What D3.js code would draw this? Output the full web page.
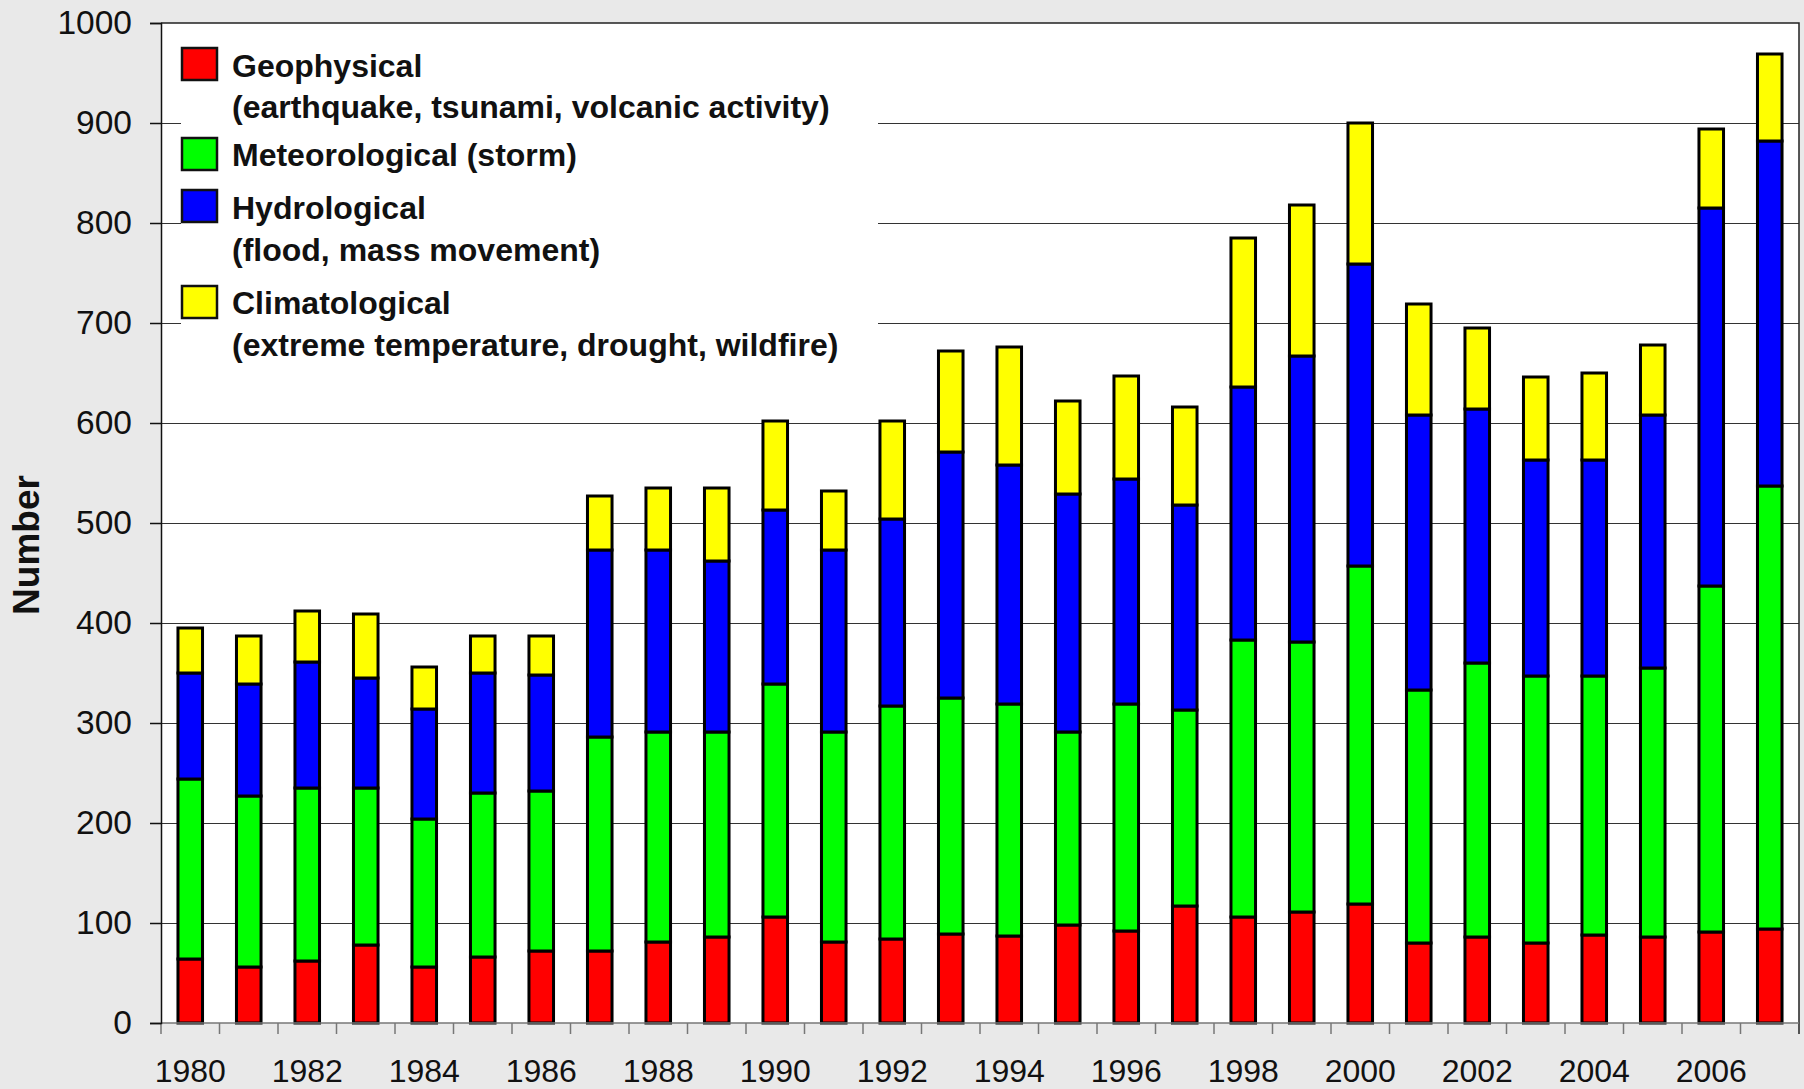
<!DOCTYPE html>
<html>
<head>
<meta charset="utf-8">
<script src="https://cdn.jsdelivr.net/npm/d3@7"></script>
<style>
  body { margin: 0; background: #e9e9e9; }
  svg { display: block; font-family: "Liberation Sans", Arial, sans-serif; }
</style>
</head>
<body>
<div id="chart"></div>
<script>
const years = d3.range(1980, 2008);

const geophysical    = [64, 56, 62, 78, 56, 66, 72, 72, 81, 86, 106, 81, 84, 89, 87, 98, 92, 117, 106, 111, 119, 80, 86, 80, 88, 86, 91, 94];
const meteorological = [180, 171, 173, 157, 148, 164, 160, 214, 210, 205, 233, 210, 233, 236, 232, 193, 227, 196, 277, 270, 338, 253, 274, 267, 259, 269, 346, 443];
const hydrological   = [106, 112, 126, 110, 110, 120, 116, 187, 182, 171, 174, 182, 187, 246, 239, 238, 225, 205, 253, 286, 302, 275, 254, 216, 216, 253, 378, 345];
const climatological = [45, 48, 51, 64, 42, 37, 39, 54, 62, 73, 89, 59, 98, 101, 118, 93, 103, 98, 149, 151, 141, 111, 81, 83, 87, 70, 79, 87];

const seriesKeys = ["geo", "met", "hyd", "cli"];
const seriesColors = ["#ff0000", "#00ff00", "#0000ff", "#ffff00"];
const yTicks = d3.range(0, 1001, 100);

const legendItems = [
    { lines: ["Geophysical", "(earthquake, tsunami, volcanic activity)"] },
    { lines: ["Meteorological (storm)"] },
    { lines: ["Hydrological", "(flood, mass movement)"] },
    { lines: ["Climatological", "(extreme temperature, drought, wildfire)"] }
];

const drawChart = () => {

    const width = 1804;
    const height = 1089;
    const margin = { top: 23, right: 5, bottom: 66, left: 161 };

    const svg = d3.select("#chart")
        .append("svg")
        .attr("width", width)
        .attr("height", height);

    svg.append("rect")
        .attr("width", width)
        .attr("height", height)
        .attr("fill", "#e9e9e9");

    const x = d3.scaleBand()
        .domain(years)
        .range([margin.left, width - margin.right]);

    const y = d3.scaleLinear()
        .domain([0, 1000])
        .range([height - margin.bottom, margin.top]);

    // plot area
    svg.append("rect")
        .attr("x", margin.left)
        .attr("y", margin.top)
        .attr("width", width - margin.right - margin.left)
        .attr("height", height - margin.bottom - margin.top)
        .attr("fill", "white");

    // grid lines
    svg.append("g")
        .selectAll("line")
        .data(yTicks.filter(d => d > 0 && d < 1000))
        .join("line")
        .attr("x1", margin.left)
        .attr("x2", width - margin.right)
        .attr("y1", d => Math.round(y(d)) + 0.5)
        .attr("y2", d => Math.round(y(d)) + 0.5)
        .attr("stroke", "#333")
        .attr("stroke-width", 1.2);

    // frame: top and right
    svg.append("path")
        .attr("d", `M${margin.left},${y(1000)}H${width - margin.right}V${y(0) + 11}`)
        .attr("fill", "none")
        .attr("stroke", "#222")
        .attr("stroke-width", 1.5);

    // legend box hides the grid behind it
    svg.append("rect")
        .attr("x", 181)
        .attr("y", 30)
        .attr("width", 697)
        .attr("height", 345)
        .attr("fill", "white");

    // stacked bars
    const table = years.map((yr, i) => ({
        year: yr,
        geo: geophysical[i],
        met: meteorological[i],
        hyd: hydrological[i],
        cli: climatological[i]
    }));

    const stacked = d3.stack().keys(seriesKeys)(table);
    const barW = x.bandwidth() * 0.42;

    svg.append("g")
        .selectAll("g")
        .data(stacked)
        .join("g")
        .attr("fill", (d, i) => seriesColors[i])
        .selectAll("rect")
        .data(d => d)
        .join("rect")
        .attr("x", d => x(d.data.year) + (x.bandwidth() - barW) / 2)
        .attr("y", d => y(d[1]))
        .attr("width", barW)
        .attr("height", d => y(d[0]) - y(d[1]))
        .attr("stroke", "black")
        .attr("stroke-width", 3);

    // x axis
    const xAxis = svg.append("g");
    xAxis.append("line")
        .attr("x1", margin.left)
        .attr("x2", width - margin.right)
        .attr("y1", y(0))
        .attr("y2", y(0))
        .attr("stroke", "#777")
        .attr("stroke-width", 1.5);

    xAxis.selectAll(".tick")
        .data(years)
        .join("line")
        .attr("x1", d => x(d))
        .attr("x2", d => x(d))
        .attr("y1", y(0))
        .attr("y2", y(0) + 11)
        .attr("stroke", "#777")
        .attr("stroke-width", 1.5);

    xAxis.selectAll("text")
        .data(years.filter(d => d % 2 === 0))
        .join("text")
        .attr("x", d => x(d) + x.bandwidth() / 2)
        .attr("y", 1082)
        .attr("text-anchor", "middle")
        .attr("font-size", 32)
        .attr("fill", "#111")
        .text(d => d);

    // y axis
    const yAxis = svg.append("g")
        .attr("transform", `translate(${margin.left},0)`)
        .call(d3.axisLeft(y).tickValues(yTicks).tickSize(11).tickPadding(18).tickFormat(d3.format("d")));

    yAxis.select(".domain")
        .attr("stroke", "#111")
        .attr("stroke-width", 1.5);
    yAxis.selectAll(".tick line")
        .attr("stroke", "#111")
        .attr("stroke-width", 1.5);
    yAxis.selectAll(".tick text")
        .attr("font-size", 33.5)
        .attr("fill", "#111")
        .attr("font-family", "Liberation Sans, Arial, sans-serif");

    svg.append("text")
        .attr("transform", "translate(39,545) rotate(-90)")
        .attr("text-anchor", "middle")
        .attr("font-size", 37)
        .attr("font-weight", "bold")
        .attr("fill", "#111")
        .text("Number");

    // legend
    const swatchY = [48, 138, 190, 286];
    const textY = [[77, 118], [166], [219, 261], [314, 356]];

    const legend = svg.append("g");
    legendItems.forEach((item, i) => {
        legend.append("rect")
            .attr("x", 182)
            .attr("y", swatchY[i])
            .attr("width", 35)
            .attr("height", 32)
            .attr("fill", seriesColors[i])
            .attr("stroke", "#111")
            .attr("stroke-width", 2.5);
        item.lines.forEach((line, j) => {
            legend.append("text")
                .attr("x", 232)
                .attr("y", textY[i][j])
                .attr("font-size", 32)
                .attr("font-weight", "bold")
                .attr("fill", "#111")
                .text(line);
        });
    });
};

drawChart();
</script>
</body>
</html>
